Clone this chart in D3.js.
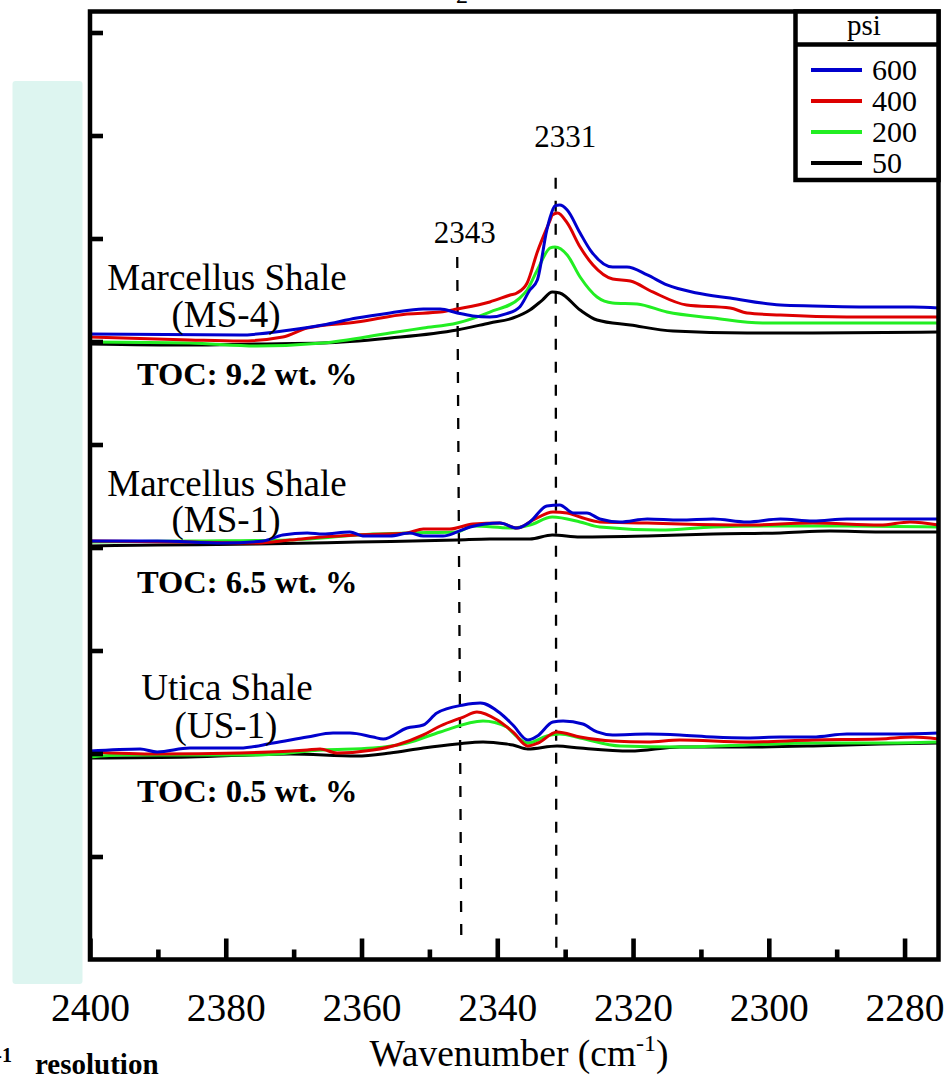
<!DOCTYPE html>
<html>
<head>
<meta charset="utf-8">
<script src="https://cdn.jsdelivr.net/npm/d3@7"></script>
<style>
  html, body { margin: 0; padding: 0; background: #fff; }
  svg { display: block; }
  text { font-family: "Liberation Serif", "Times New Roman", Times, serif; fill: #000; }
</style>
</head>
<body>
<svg id="chart" width="946" height="1076"></svg>
<script>
// ---------- DATA (wavenumber cm-1, offset absorbance a.u.) ----------
const pressures = ["600", "400", "200", "50"];
const colors = ["#0000cd", "#dd0000", "#22ee22", "#000000"];
const xTicksMajor = [2400, 2380, 2360, 2340, 2320, 2300, 2280];
const xTicksMinor = [2390, 2370, 2350, 2330, 2310, 2290];
const yTicks = [1, 2, 3, 4, 5, 6, 7, 8, 9];

// MS-4 (TOC 9.2 wt.%)
const ms4_600 = [[2400,6.073],[2377.9,6.063],[2370.5,6.112],[2365.7,6.160],[2360.7,6.228],[2355.8,6.277],[2350.9,6.316],[2348.4,6.316],[2345.9,6.277],[2343.6,6.248],[2341.1,6.238],[2338.6,6.270],[2336.7,6.335],[2335.2,6.500],[2334.1,6.597],[2332.7,7.083],[2332.2,7.209],[2331.5,7.316],[2330.8,7.325],[2329.7,7.277],[2327.8,7.053],[2326.3,6.888],[2323.0,6.723],[2320.9,6.723],[2317.9,6.646],[2315.0,6.549],[2310.6,6.471],[2305.7,6.422],[2298.3,6.354],[2293.5,6.345],[2283.6,6.335],[2278.8,6.335],[2275,6.325]];
const ms4_400 = [[2400,6.044],[2385.3,6.015],[2377.9,6.005],[2371.6,6.044],[2368.0,6.131],[2360.7,6.189],[2353.3,6.267],[2348.4,6.286],[2345.9,6.316],[2341.1,6.384],[2338.1,6.451],[2337.1,6.471],[2335.6,6.568],[2334.1,6.869],[2332.2,7.180],[2331.9,7.228],[2331.1,7.248],[2329.7,7.151],[2327.8,6.917],[2325.9,6.743],[2323.0,6.607],[2320.4,6.587],[2317.1,6.481],[2312.1,6.354],[2305.7,6.325],[2303.2,6.277],[2298.3,6.257],[2288.5,6.238],[2275,6.238]];
const ms4_200 = [[2400,5.995],[2385.3,5.985],[2375.4,5.956],[2365.7,5.985],[2355.8,6.083],[2350.9,6.131],[2345.9,6.180],[2341.1,6.286],[2336.7,6.422],[2335.6,6.500],[2334.1,6.694],[2332.2,6.908],[2331.5,6.917],[2329.7,6.840],[2327.8,6.626],[2325.3,6.432],[2323.0,6.374],[2319.4,6.364],[2315.0,6.286],[2308.2,6.228],[2300.9,6.180],[2293.5,6.180],[2275,6.180]];
const ms4_50 = [[2400,5.976],[2385.3,5.966],[2375.4,5.976],[2365.7,5.985],[2355.8,6.034],[2345.9,6.112],[2341.1,6.180],[2337.7,6.228],[2335.2,6.306],[2333.4,6.400],[2331.9,6.481],[2330.8,6.471],[2327.8,6.306],[2325.3,6.209],[2320.4,6.160],[2314.1,6.102],[2303.2,6.083],[2293.5,6.083],[2275,6.092]];

// MS-1 (TOC 6.5 wt.%)
const ms1_600 = [[2400,4.063],[2390.1,4.063],[2380.4,4.044],[2374.5,4.063],[2371.6,4.121],[2368.0,4.141],[2365.7,4.131],[2361.7,4.151],[2359.8,4.112],[2355.8,4.112],[2352.9,4.141],[2350.9,4.112],[2348.0,4.112],[2345.9,4.151],[2344.0,4.199],[2339.6,4.238],[2337.1,4.189],[2335.2,4.248],[2332.7,4.403],[2330.8,4.413],[2328.8,4.335],[2326.8,4.335],[2324.9,4.277],[2321.9,4.248],[2317.9,4.277],[2313.1,4.267],[2308.2,4.277],[2303.2,4.248],[2298.3,4.277],[2293.5,4.257],[2288.5,4.277],[2283.6,4.277],[2275,4.277]];
const ms1_400 = [[2400,4.063],[2385.3,4.053],[2375.4,4.044],[2370.5,4.073],[2365.7,4.102],[2360.7,4.121],[2353.3,4.141],[2350.9,4.180],[2347.0,4.180],[2343.6,4.228],[2339.6,4.238],[2337.1,4.189],[2334.7,4.267],[2331.8,4.345],[2329.7,4.335],[2327.8,4.296],[2324.9,4.248],[2317.9,4.238],[2313.1,4.228],[2303.2,4.218],[2293.5,4.238],[2283.6,4.218],[2279.2,4.248],[2275,4.218]];
const ms1_200 = [[2400,4.053],[2385.3,4.063],[2370.5,4.073],[2358.3,4.131],[2353.3,4.141],[2345.9,4.151],[2343.6,4.209],[2337.7,4.189],[2335.2,4.218],[2331.9,4.296],[2327.8,4.248],[2324.9,4.199],[2316.0,4.170],[2308.2,4.199],[2298.3,4.209],[2288.5,4.209],[2275,4.199]];
const ms1_50 = [[2400,4.015],[2390.1,4.024],[2375.4,4.034],[2360.7,4.053],[2345.9,4.073],[2341.1,4.083],[2335.2,4.083],[2331.9,4.121],[2327.8,4.102],[2317.9,4.112],[2308.2,4.131],[2298.3,4.141],[2291.0,4.160],[2283.6,4.151],[2275,4.151]];

// US-1 (TOC 0.5 wt.%)
const us1_600 = [[2400,2.024],[2392.6,2.044],[2390.1,2.015],[2385.3,2.053],[2377.9,2.053],[2373.0,2.102],[2368.0,2.160],[2364.2,2.199],[2361.7,2.199],[2358.3,2.160],[2356.8,2.141],[2353.3,2.248],[2350.9,2.277],[2348.9,2.393],[2345.0,2.471],[2342.5,2.490],[2339.6,2.393],[2337.7,2.277],[2335.5,2.131],[2334.1,2.170],[2331.8,2.306],[2330.3,2.316],[2327.4,2.286],[2325.3,2.209],[2323.0,2.180],[2317.9,2.189],[2313.1,2.180],[2308.2,2.160],[2303.2,2.151],[2298.3,2.160],[2293.5,2.160],[2288.5,2.189],[2281.1,2.189],[2275,2.199]];
const us1_400 = [[2400,2.015],[2390.1,1.995],[2377.9,2.005],[2368.0,2.034],[2366.1,2.044],[2363.6,2.005],[2358.3,2.034],[2354.8,2.083],[2350.9,2.180],[2348.4,2.267],[2345.0,2.354],[2343.0,2.403],[2340.0,2.325],[2337.7,2.209],[2335.5,2.073],[2334.0,2.102],[2331.2,2.209],[2327.8,2.160],[2323.0,2.121],[2317.9,2.112],[2313.1,2.131],[2303.2,2.112],[2293.5,2.131],[2283.6,2.141],[2278.8,2.160],[2275,2.141]];
const us1_200 = [[2400,1.966],[2395.1,1.985],[2375.4,1.985],[2365.7,2.034],[2358.3,2.053],[2353.3,2.102],[2348.4,2.209],[2342.1,2.316],[2338.6,2.257],[2337.7,2.199],[2335.5,2.102],[2332.7,2.170],[2330.8,2.189],[2327.8,2.151],[2321.9,2.073],[2313.1,2.063],[2303.2,2.083],[2293.5,2.102],[2283.6,2.102],[2275,2.112]];
const us1_50 = [[2400,1.956],[2385.3,1.966],[2370.5,1.995],[2360.7,1.976],[2355.8,2.005],[2350.9,2.053],[2345.9,2.092],[2342.1,2.112],[2338.6,2.092],[2337.7,2.083],[2335.5,2.044],[2331.2,2.073],[2327.8,2.053],[2320.4,2.024],[2313.1,2.063],[2303.2,2.063],[2293.5,2.073],[2283.6,2.092],[2275,2.102]];

const samples = [
  { name: "Marcellus Shale", code: "(MS-4)", toc: "TOC: 9.2 wt. %", series: [ms4_600, ms4_400, ms4_200, ms4_50] },
  { name: "Marcellus Shale", code: "(MS-1)", toc: "TOC: 6.5 wt. %", series: [ms1_600, ms1_400, ms1_200, ms1_50] },
  { name: "Utica Shale",     code: "(US-1)", toc: "TOC: 0.5 wt. %", series: [us1_600, us1_400, us1_200, us1_50] }
];
// peak markers: [label, wavenumber top, wavenumber bottom, value top, value bottom, label wavenumber, label value]
const peakMarks = [
  ["2331", 2331.4, 2331.3, 7.59, 0.02, 2330.0, 7.89],
  ["2343", 2345.9, 2345.3, 6.82, 0.16, 2344.8, 6.96]
];

// ---------- LAYOUT ----------
const svg = d3.select("#chart");
const font = '"Liberation Serif", "Times New Roman", Times, serif';
const x = d3.scaleLinear().domain([2400, 2275]).range([90, 938.5]);
const y = d3.scaleLinear().domain([0, 948 / 103]).range([959.5, 11.5]);

// light teal side panel
svg.append("rect").attr("x", 12.5).attr("y", 81).attr("width", 70).attr("height", 903)
  .attr("rx", 3).attr("fill", "#ddf5f0");

// cut-off title fragment at top
svg.append("text").attr("x", 462).attr("y", 3).attr("text-anchor", "middle")
  .attr("font-size", 24).text("2");

// dashed peak lines
peakMarks.forEach(m => {
  svg.append("line")
    .attr("x1", x(m[1])).attr("x2", x(m[2]))
    .attr("y1", y(m[3])).attr("y2", y(m[4]))
    .attr("stroke", "#000").attr("stroke-width", 2.3)
    .attr("stroke-dasharray", "11,12");
  svg.append("text").attr("x", x(m[5])).attr("y", y(m[6]))
    .attr("text-anchor", "middle").attr("font-size", 31).text(m[0]);
});

// spectra
const line = d3.line().x(d => x(d[0])).y(d => y(d[1])).curve(d3.curveMonotoneX);
samples.forEach(s => {
  [3, 2, 1, 0].forEach(i => {
    svg.append("path").datum(s.series[i])
      .attr("d", line).attr("fill", "none")
      .attr("stroke", colors[i]).attr("stroke-width", 3)
      .attr("stroke-linejoin", "round");
  });
});

// sample labels
const labelPos = [
  { nameY: 290, codeY: 327, tocY: 385 },
  { nameY: 496, codeY: 532, tocY: 593 },
  { nameY: 700, codeY: 738, tocY: 802 }
];
samples.forEach((s, i) => {
  const p = labelPos[i];
  svg.append("text").attr("x", 227).attr("y", p.nameY).attr("text-anchor", "middle")
    .attr("font-size", 37).text(s.name);
  svg.append("text").attr("x", 226).attr("y", p.codeY).attr("text-anchor", "middle")
    .attr("font-size", 37).text(s.code);
  svg.append("text").attr("x", 137).attr("y", p.tocY)
    .attr("font-size", 32.5).attr("font-weight", "bold").text(s.toc);
});

// axes frame
const g = svg.append("g");
g.append("rect").attr("x", x(2400)).attr("y", y.range()[1])
  .attr("width", x(2275) - x(2400)).attr("height", y.range()[0] - y.range()[1])
  .attr("fill", "none").attr("stroke", "#000").attr("stroke-width", 4.5);

// bottom axis ticks (inward)
const xAxisMajor = d3.axisBottom(x).tickValues(xTicksMajor).tickSize(-21).tickPadding(34)
  .tickFormat(d3.format("d"));
const xa = g.append("g").attr("transform", `translate(0,${y(0)})`).call(xAxisMajor);
xa.select(".domain").remove();
xa.selectAll(".tick line").attr("stroke", "#000").attr("stroke-width", 4.6);
xa.selectAll(".tick text").attr("font-family", font).attr("font-size", 39.5).attr("fill", "#000")
  .attr("dy", null).attr("y", 61);
const xAxisMinor = d3.axisBottom(x).tickValues(xTicksMinor).tickSize(-10).tickFormat("");
const xm = g.append("g").attr("transform", `translate(0,${y(0)})`).call(xAxisMinor);
xm.select(".domain").remove();
xm.selectAll(".tick line").attr("stroke", "#000").attr("stroke-width", 4.6);

// left axis ticks (inward, no labels)
const yAxis = d3.axisLeft(y).tickValues(yTicks).tickSize(-13).tickFormat("");
const ya = g.append("g").attr("transform", `translate(${x(2400)},0)`).call(yAxis);
ya.select(".domain").remove();
ya.selectAll(".tick line").attr("stroke", "#000").attr("stroke-width", 4.6);

// axis title
const t = svg.append("text").attr("x", 519).attr("y", 1066).attr("text-anchor", "middle")
  .attr("font-size", 37.5);
t.append("tspan").text("Wavenumber (cm");
t.append("tspan").attr("font-size", 24).attr("dy", -15).text("-1");
t.append("tspan").attr("dy", 15).text(")");

// cut-off resolution note (left part runs off the page)
const r1 = svg.append("text").attr("x", 12).attr("y", 1074).attr("text-anchor", "end")
  .attr("font-size", 29).attr("font-weight", "bold");
r1.append("tspan").text("4 cm");
r1.append("tspan").attr("font-size", 20).attr("dy", -12).text("-1");
svg.append("text").attr("x", 35).attr("y", 1074)
  .attr("font-size", 29).attr("font-weight", "bold").text("resolution");

// legend
const lg = svg.append("g");
const lx0 = 795.5, lx1 = x(2275), ly0 = y.range()[1], ly1 = 180;
lg.append("rect").attr("x", lx0).attr("y", ly0).attr("width", lx1 - lx0).attr("height", ly1 - ly0)
  .attr("fill", "#fff").attr("stroke", "#000").attr("stroke-width", 4.5);
lg.append("line").attr("x1", lx0).attr("x2", lx1).attr("y1", 44.5).attr("y2", 44.5)
  .attr("stroke", "#000").attr("stroke-width", 4.5);
lg.append("text").attr("x", 864).attr("y", 35).attr("text-anchor", "middle")
  .attr("font-size", 29).text("psi");
pressures.forEach((p, i) => {
  const yy = 70 + i * 31;
  lg.append("line").attr("x1", 811).attr("x2", 862).attr("y1", yy).attr("y2", yy)
    .attr("stroke", colors[i]).attr("stroke-width", 4);
  lg.append("text").attr("x", 872).attr("y", yy + 10).attr("font-size", 30).text(p);
});
</script>
</body>
</html>
